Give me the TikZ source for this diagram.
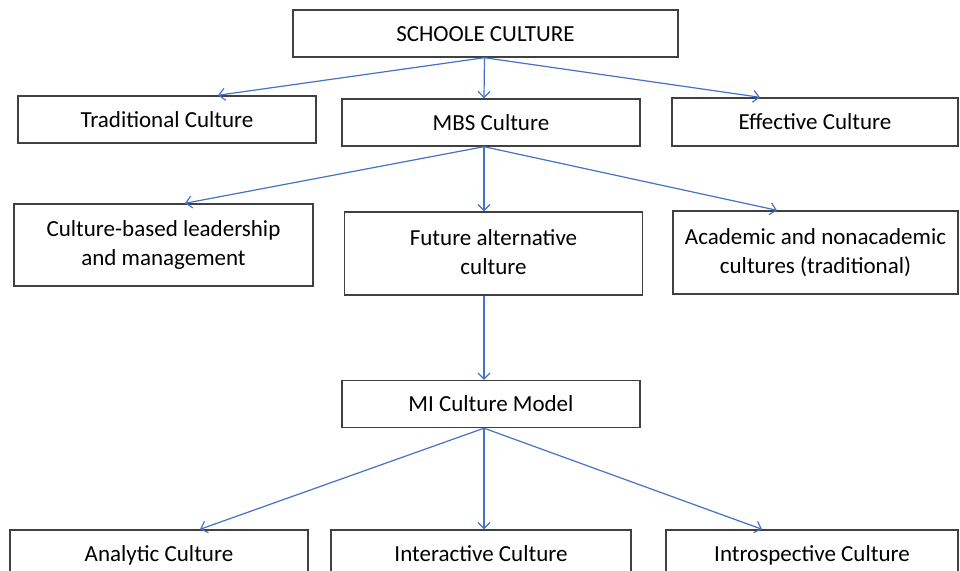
\documentclass[tikz,border=0pt]{standalone}
\usepackage{fontspec}
\setmainfont{Carlito}
\usetikzlibrary{arrows.meta}
\definecolor{linkblue}{RGB}{68,114,196}
\definecolor{boxgray}{RGB}{64,64,64}

\begin{document}
\begin{tikzpicture}[x=0.5pt,y=-0.5pt,
  box/.style={draw=boxgray,line width=0.7pt,inner sep=0pt,align=center,
    font=\fontsize{11.5}{14.5}\selectfont,minimum width=149pt,minimum height=23.5pt,
    text height=2ex,text depth=0.4ex},
  tallbox/.style={box,minimum height=41.5pt,text height=,text depth=},
  link/.style={draw=linkblue,line width=0.6pt,
    -{Straight Barb[length=3pt,width=6pt]}}]
  \clip (0,0) rectangle (960,571);
  % top
  \node[box,minimum width=192.5pt] (school) at (485.5,33.5) {SCHOOLE CULTURE};
  % second row
  \node[box] (trad) at (167,119.5) {Traditional Culture};
  \node[box] (mbs) at (491,122.5) {MBS Culture};
  \node[box,minimum width=143pt,minimum height=24pt] (eff) at (815,122) {Effective Culture};
  % third row
  \node[tallbox,minimum width=149.5pt,minimum height=41pt] (cbl) at (163.5,245)
    {Culture-based leadership\\and management};
  \node[tallbox] (fut) at (493.5,253.5) {Future alternative\\culture\vphantom{g}};
  \node[tallbox,minimum width=142.5pt] (acad) at (815.5,252.5)
    {Academic and nonacademic\\cultures (traditional)};
  \node[box] (mi) at (491,404) {MI Culture Model};
  % bottom row
  \node[box] (ana) at (159,553.5) {Analytic Culture};
  \node[box,minimum width=150pt] (inter) at (481,553.5) {Interactive Culture};
  \node[box,minimum width=146pt] (intro) at (812,553.5) {Introspective Culture};

  \draw[link] ([xshift=-0.5pt]school.south) -- ([xshift=25.5pt]trad.north);
  \draw[link] ([xshift=-0.5pt]school.south) -- ([xshift=-3.5pt]mbs.north);
  \draw[link] ([xshift=-0.5pt]school.south) -- ([xshift=-27.5pt]eff.north);
  \draw[link] ([xshift=-3.5pt]mbs.south) -- ([xshift=10.75pt]cbl.north);
  \draw[link] ([xshift=-3.5pt]mbs.south) -- ([xshift=-4.75pt]fut.north);
  \draw[link] ([xshift=-3.5pt]mbs.south) -- ([xshift=-19.25pt]acad.north);
  \draw[link] ([xshift=-4.75pt]fut.south) -- ([xshift=-3.5pt]mi.north);
  \draw[link] ([xshift=-3.5pt]mi.south) -- ([xshift=20.5pt]ana.north);
  \draw[link] ([xshift=-3.5pt]mi.south) -- ([xshift=1.5pt]inter.north);
  \draw[link] ([xshift=-3.5pt]mi.south) -- ([xshift=-25pt]intro.north);
\end{tikzpicture}
\end{document}
